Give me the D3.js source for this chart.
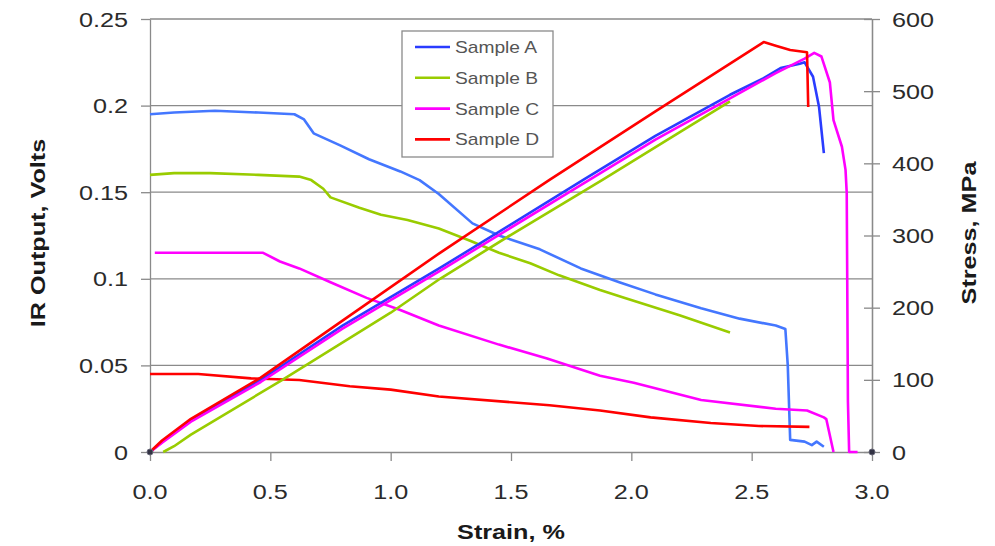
<!DOCTYPE html>
<html>
<head>
<meta charset="utf-8">
<script src="https://cdn.jsdelivr.net/npm/d3@7"></script>
<style>
body { margin: 0; background: #fff; }
text { font-family: Arial, "Liberation Sans", sans-serif; }
</style>
</head>
<body>
<svg id="chart" width="995" height="546"></svg>
<script>
// IR output (left axis, volts) vs strain
var strainIrA = [0, 0.1, 0.27, 0.45, 0.6, 0.64, 0.68, 0.79, 0.91, 1.04, 1.12, 1.2, 1.34, 1.45, 1.62, 1.79, 1.95, 2.1, 2.29, 2.45, 2.6, 2.64, 2.65, 2.66, 2.72, 2.75, 2.77, 2.8];
var irA = [0.195, 0.196, 0.197, 0.196, 0.195, 0.192, 0.184, 0.177, 0.169, 0.162, 0.157, 0.149, 0.132, 0.125, 0.117, 0.106, 0.098, 0.091, 0.083, 0.077, 0.073, 0.071, 0.05, 0.007, 0.006, 0.004, 0.006, 0.003];
var strainIrB = [0, 0.1, 0.25, 0.45, 0.62, 0.67, 0.72, 0.75, 0.87, 0.96, 1.07, 1.2, 1.33, 1.45, 1.58, 1.7, 1.87, 1.97, 2.2, 2.41];
var irB = [0.16, 0.161, 0.161, 0.16, 0.159, 0.157, 0.152, 0.147, 0.141, 0.137, 0.134, 0.129, 0.122, 0.115, 0.109, 0.102, 0.0935, 0.089, 0.079, 0.069];
var strainIrC = [0.02, 0.2, 0.47, 0.54, 0.62, 0.75, 0.9, 1.04, 1.2, 1.45, 1.65, 1.87, 2.01, 2.29, 2.6, 2.73, 2.8, 2.81, 2.84];
var irC = [0.115, 0.115, 0.115, 0.11, 0.106, 0.098, 0.089, 0.082, 0.073, 0.062, 0.054, 0.044, 0.04, 0.03, 0.025, 0.024, 0.02, 0.019, 0];
var strainIrD = [0, 0.2, 0.42, 0.62, 0.83, 1.0, 1.2, 1.66, 1.87, 2.08, 2.33, 2.53, 2.74];
var irD = [0.045, 0.045, 0.0425, 0.0416, 0.038, 0.036, 0.032, 0.027, 0.024, 0.02, 0.0167, 0.015, 0.0145];

// stress (right axis, MPa) vs strain
var strainSA = [0, 0.05, 0.17, 0.46, 0.8, 1.205, 1.8, 2.1, 2.41, 2.55, 2.62, 2.7, 2.72, 2.755, 2.78, 2.8];
var stressA = [0, 14, 44, 100, 175, 255, 377, 438, 495, 518, 532, 538, 540, 520, 478, 414];
var strainSB = [0.055, 0.1, 0.17, 0.55, 1.0, 1.205, 1.5, 1.88, 2.2, 2.41];
var stressB = [0, 8, 24, 100, 193, 240, 301, 377, 443, 486];
var strainSC = [0, 0.05, 0.17, 0.46, 0.8, 1.205, 1.8, 2.1, 2.41, 2.6, 2.72, 2.76, 2.79, 2.825, 2.84, 2.875, 2.89, 2.895, 2.9, 2.905, 2.94];
var stressC = [0, 13, 42, 97, 171, 251, 372, 433, 490, 525, 545, 553, 548, 512, 460, 423, 391, 359, 70, 0, 0];
var strainSD = [0, 0.05, 0.17, 0.46, 0.8, 1.205, 1.66, 2.1, 2.55, 2.6, 2.66, 2.73, 2.735];
var stressD = [0, 16, 46, 103, 182, 276, 377, 472, 568, 563, 557, 554, 478];

var samples = ["Sample A", "Sample B", "Sample C", "Sample D"];
var irColors = ["#4477ff", "#99cc00", "#ff00ff", "#ff0000"];
var stressColors = ["#2a3cff", "#99cc00", "#ff00ff", "#ff0000"];

var leftTicks = [0, 0.05, 0.1, 0.15, 0.2, 0.25];
var leftLabels = ["0", "0.05", "0.1", "0.15", "0.2", "0.25"];
var rightTicks = [0, 100, 200, 300, 400, 500, 600];
var xTicks = [0, 0.5, 1, 1.5, 2, 2.5, 3];

function pairs(xs, ys) {
	return xs.map(function(v, i) { return [v, ys[i]]; });
}
var irSeries = [pairs(strainIrA, irA), pairs(strainIrB, irB), pairs(strainIrC, irC), pairs(strainIrD, irD)];
var stressSeries = [pairs(strainSA, stressA), pairs(strainSB, stressB), pairs(strainSC, stressC), pairs(strainSD, stressD)];

var svg = d3.select("#chart");
var x = d3.scaleLinear().domain([0, 3]).range([150, 872]);
var yL = d3.scaleLinear().domain([0, 0.25]).range([452, 19]);
var yR = d3.scaleLinear().domain([0, 600]).range([452, 19]);
var axisGrey = "#8a8a8a";

// text in the source is a bit wider than arial, stretch it
function label(g, px, py, str, opts) {
	opts = opts || {};
	var t = "translate(" + px + "," + py + ")";
	if (opts.rot) t += " rotate(" + opts.rot + ")";
	t += " scale(1.2,1)";
	return g.append("text")
		.attr("transform", t)
		.attr("text-anchor", opts.anchor || "middle")
		.style("font-size", (opts.size || 21) + "px")
		.style("font-weight", opts.bold ? "bold" : "normal")
		.style("fill", opts.fill || "#2b2b2b")
		.text(str);
}

//gridlines
svg.append("g").selectAll("line")
	.data(leftTicks.slice(1))
	.enter()
	.append("line")
	.attr("x1", x(0)).attr("x2", x(3))
	.attr("y1", function(d) { return yL(d); })
	.attr("y2", function(d) { return yL(d); })
	.style("stroke", axisGrey)
	.style("stroke-width", 1.3);

//axes
svg.append("g")
	.attr("transform", "translate(" + x(0) + ",0)")
	.call(d3.axisLeft(yL).tickValues(leftTicks).tickSize(9).tickSizeOuter(0).tickFormat(""));
svg.append("g")
	.attr("transform", "translate(0," + yL(0) + ")")
	.call(d3.axisBottom(x).tickValues(xTicks).tickSize(9).tickSizeOuter(0).tickFormat(""));
svg.append("g")
	.attr("transform", "translate(" + x(3) + ",0)")
	.call(d3.axisRight(yR).tickValues(rightTicks).tickSize(8).tickSizeOuter(0).tickFormat(""));
svg.append("g")
	.attr("transform", "translate(" + x(3) + ",0)")
	.call(d3.axisLeft(yR).tickValues(rightTicks).tickSize(8).tickSizeOuter(0).tickFormat(""));
svg.selectAll(".domain, .tick line")
	.style("stroke", axisGrey)
	.style("stroke-width", 1.3);

var labels = svg.append("g");
leftTicks.forEach(function(v, i) {
	label(labels, 128, yL(v) + 7.5, leftLabels[i], {anchor: "end"});
});
rightTicks.forEach(function(v) {
	label(labels, 892, yR(v) + 7.5, String(v), {anchor: "start"});
});
xTicks.forEach(function(v) {
	label(labels, x(v), 499, d3.format(".1f")(v));
});
label(labels, 511, 539, "Strain, %", {bold: true, size: 21, fill: "#1a1a1a"});
label(labels, 45, 233, "IR Output, Volts", {bold: true, size: 21, rot: -90, fill: "#1a1a1a"});
label(labels, 976, 233, "Stress, MPa", {bold: true, size: 21, rot: -90, fill: "#1a1a1a"});

//data lines
var lineL = d3.line()
	.x(function(d) { return x(d[0]); })
	.y(function(d) { return yL(d[1]); });
var lineR = d3.line()
	.x(function(d) { return x(d[0]); })
	.y(function(d) { return yR(d[1]); });

svg.append("g").selectAll("path")
	.data(irSeries)
	.enter()
	.append("path")
	.attr("d", lineL)
	.style("fill", "none")
	.style("stroke", function(d, i) { return irColors[i]; })
	.style("stroke-width", 2.6)
	.style("stroke-linejoin", "round");
svg.append("g").selectAll("path")
	.data(stressSeries)
	.enter()
	.append("path")
	.attr("d", lineR)
	.style("fill", "none")
	.style("stroke", function(d, i) { return stressColors[i]; })
	.style("stroke-width", 2.6)
	.style("stroke-linejoin", "round");

//little markers sitting on the corners
svg.append("g").selectAll("circle")
	.data([0, 3])
	.enter()
	.append("circle")
	.attr("cx", function(d) { return x(d); })
	.attr("cy", yL(0))
	.attr("r", 3)
	.style("fill", "#334")
	.style("stroke", "#667")
	.style("stroke-width", 1);

//legend
var legend = svg.append("g").attr("transform", "translate(402,31)");
legend.append("rect")
	.attr("width", 151)
	.attr("height", 126)
	.style("fill", "#fff")
	.style("stroke", axisGrey)
	.style("stroke-width", 1.3);
var items = legend.selectAll("g")
	.data(samples)
	.enter()
	.append("g")
	.attr("transform", function(d, i) { return "translate(0," + (16 + i * 30.8) + ")"; });
items.append("line")
	.attr("x1", 13).attr("x2", 48)
	.style("stroke", function(d, i) { return stressColors[i]; })
	.style("stroke-width", 2.6);
items.each(function(d) {
	label(d3.select(this), 53, 6, d, {anchor: "start", size: 16, fill: "#555"});
});
</script>
</body>
</html>
